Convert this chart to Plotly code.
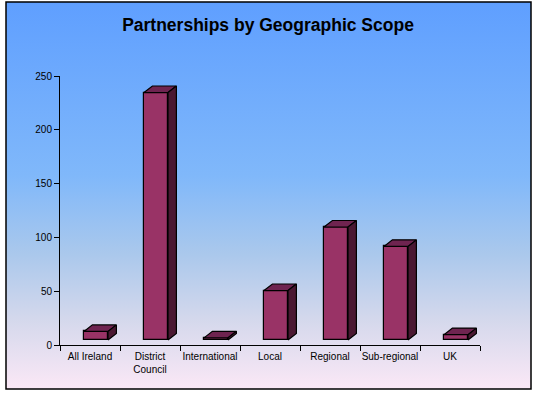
import base64
import plotly.graph_objects as go

# ---- data ----
categories = ["All Ireland", "District<br>Council", "International", "Local",
              "Regional", "Sub-regional", "UK"]
values = [8, 230, 2, 46, 105, 87, 5]
y_ticks = [0, 50, 100, 150, 200, 250]
title_text = "Partnerships by Geographic Scope"

# ---- 3D projection parameters (in axis units) ----
bar_w = 0.4
front_dx = 0.1    # front face shift right
front_dy = 4.6    # front face shift up (value units)
depth_dx = 0.14
depth_dy = 6.1

front_col = "#993366"
top_col = "#6f2450"
side_col = "#4a1832"

W, H = 537, 396
L, R, T, B = 60, 57, 76, 51
pw, ph = W - L - R, H - T - B

fig = go.Figure()

xs = [i + front_dx for i in range(len(values))]
fig.add_trace(go.Bar(
    x=xs, y=values, base=[front_dy] * len(values), width=bar_w,
    marker=dict(color=front_col, line=dict(color="black", width=1.2)),
    hoverinfo="skip", showlegend=False))

for i, v in enumerate(values):
    xl = xs[i] - bar_w / 2
    xr = xs[i] + bar_w / 2
    yb = front_dy
    yt = front_dy + v
    # top face
    fig.add_trace(go.Scatter(
        x=[xl, xr, xr + depth_dx, xl + depth_dx, xl],
        y=[yt, yt, yt + depth_dy, yt + depth_dy, yt],
        mode="lines", fill="toself", fillcolor=top_col,
        line=dict(color="black", width=1.2), hoverinfo="skip",
        showlegend=False, cliponaxis=False))
    # side face
    fig.add_trace(go.Scatter(
        x=[xr, xr + depth_dx, xr + depth_dx, xr, xr],
        y=[yb, yb + depth_dy, yt + depth_dy, yt, yb],
        mode="lines", fill="toself", fillcolor=side_col,
        line=dict(color="black", width=1.2), hoverinfo="skip",
        showlegend=False, cliponaxis=False))

# gradient background via svg image
svg = f'''<svg xmlns="http://www.w3.org/2000/svg" width="{W}" height="{H}" preserveAspectRatio="none" viewBox="0 0 {W} {H}">
<defs><linearGradient id="g" x1="0" y1="0" x2="0" y2="1">
<stop offset="0" stop-color="#5f9fff"/>
<stop offset="0.45" stop-color="#80b8fa"/>
<stop offset="0.65" stop-color="#aac8ec"/>
<stop offset="0.82" stop-color="#d4d8ec"/>
<stop offset="1" stop-color="#fbe8f6"/>
</linearGradient></defs>
<rect x="0" y="0" width="{W}" height="{H}" fill="url(#g)"/>
</svg>'''
src = "data:image/svg+xml;base64," + base64.b64encode(svg.encode()).decode()

def px_x(p):
    return (p - L) / pw

def px_y(p):
    return (H - B - p) / ph

fx0, fx1, fy0, fy1 = 6, 531, 2, 389
fig.add_layout_image(dict(
    source=src, xref="paper", yref="paper",
    x=px_x(fx0), y=px_y(fy0), sizex=px_x(fx1) - px_x(fx0), sizey=px_y(fy0) - px_y(fy1),
    sizing="stretch", layer="below", xanchor="left", yanchor="top"))
fig.add_shape(type="rect", xref="paper", yref="paper",
              x0=px_x(fx0), x1=px_x(fx1), y0=px_y(fy1), y1=px_y(fy0),
              line=dict(color="black", width=1.5), fillcolor="rgba(0,0,0,0)", layer="above")

fig.update_layout(
    width=W, height=H,
    margin=dict(l=L, r=R, t=T, b=B, pad=0),
    paper_bgcolor="white", plot_bgcolor="rgba(0,0,0,0)",
    font=dict(family="Liberation Sans, Arial, sans-serif", size=10, color="black"),
    title=dict(text="<b>" + title_text + "</b>", xref="paper", xanchor="center",
               x=(268 - L) / pw, y=1 - 25 / H, yanchor="middle",
               font=dict(size=17.5, family="Liberation Sans, Arial, sans-serif", color="black")),
    bargap=0, showlegend=False,
)

fig.update_xaxes(
    range=[-0.5, len(values) - 0.5], tickmode="array",
    tickvals=list(range(len(values))), ticktext=categories,
    ticks="", showline=True, linecolor="black", linewidth=1,
    showgrid=False, zeroline=False, fixedrange=True,
    tickfont=dict(size=10), ticklabelstandoff=2,
    minor=dict(tickmode="array", tickvals=[i - 0.5 for i in range(len(values) + 1)],
               ticks="outside", ticklen=5, tickcolor="black", tickwidth=1, showgrid=False),
)
fig.update_yaxes(
    range=[0, 250], tickmode="array", tickvals=y_ticks,
    ticks="outside", ticklen=5, tickcolor="black", tickwidth=1,
    showline=True, linecolor="black", linewidth=1,
    showgrid=False, zeroline=False, fixedrange=True,
    tickfont=dict(size=10),
)

fig.write_html("out.html")
